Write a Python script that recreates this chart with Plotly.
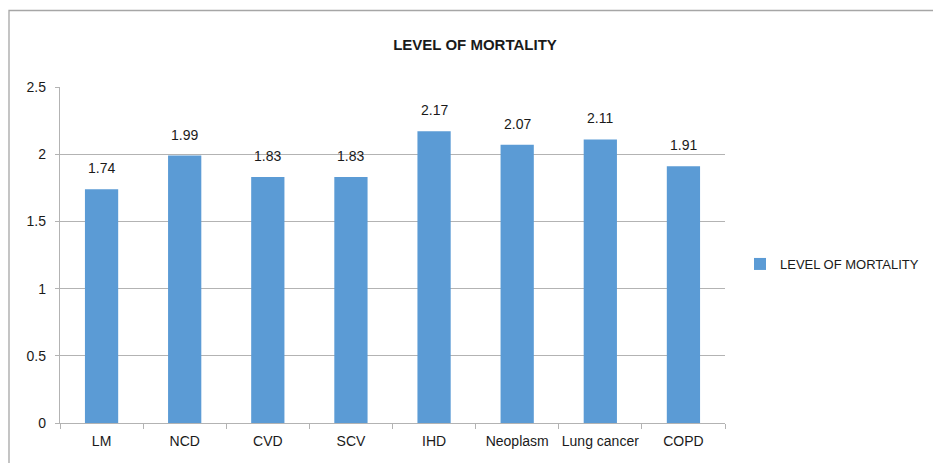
import plotly.graph_objects as go

categories = ["LM", "NCD", "CVD", "SCV", "IHD", "Neoplasm", "Lung cancer", "COPD"]
values = [1.74, 1.99, 1.83, 1.83, 2.17, 2.07, 2.11, 1.91]
series_name = "LEVEL OF MORTALITY"
y_ticks = [0, 0.5, 1, 1.5, 2, 2.5]
y_tick_labels = ["0", "0.5", "1", "1.5", "2", "2.5"]

W, H = 933, 463
L, R, T, B = 60, 725, 87, 423
FONT = "Liberation Sans"
GRID = "#b3b3b3"
TXT = "#1a1a1a"

fig = go.Figure()
fig.add_trace(go.Bar(
    x=categories, y=values, name=series_name,
    marker=dict(color="#5b9bd5", line=dict(width=0)),
))
for c, v in zip(categories, values):
    fig.add_annotation(x=c, y=v, text=f"{v:.2f}", showarrow=False,
                       yanchor="middle", yshift=21,
                       font=dict(family=FONT, size=14, color=TXT))

def px_x(x):
    return (x - L) / (R - L)

def px_y(y):
    return (B - y) / (B - T)

bx, by = px_x(9), px_y(10.5)
fig.add_shape(type="path", xref="paper", yref="paper",
              path=f"M {bx},{px_y(480)} L {bx},{by} L {px_x(960)},{by}",
              line=dict(color="#a6a6a6", width=1.3))

fig.update_layout(
    width=W, height=H, autosize=False,
    margin=dict(l=L, r=W - R, t=T, b=H - B, pad=0, autoexpand=False),
    paper_bgcolor="white", plot_bgcolor="white",
    bargap=0.6,
    showlegend=True,
    title=dict(text="<b>LEVEL OF MORTALITY</b>", x=475 / W, xref="container",
               xanchor="center", y=1 - 45 / H, yref="container", yanchor="middle",
               font=dict(family=FONT, size=15, color=TXT)),
    legend=dict(x=px_x(740), y=px_y(264), xref="paper", yref="paper",
                xanchor="left", yanchor="middle",
                font=dict(family=FONT, size=13, color=TXT),
                itemwidth=30),
    xaxis=dict(showline=True, linecolor=GRID, linewidth=1.3,
               ticks="outside", tickson="boundaries", ticklen=5, tickcolor=GRID,
               tickangle=0, automargin=False, ticklabelstandoff=5,
               tickfont=dict(family=FONT, size=14, color=TXT),
               showgrid=False),
    yaxis=dict(range=[0, 2.5], tickvals=y_ticks, ticktext=y_tick_labels,
               showline=True, linecolor=GRID, linewidth=1.3,
               ticks="outside", ticklen=4, tickcolor=GRID, automargin=False,
               ticklabelstandoff=6,
               showgrid=True, gridcolor=GRID, gridwidth=1.3,
               zeroline=False,
               tickfont=dict(family=FONT, size=14, color=TXT)),
)

fig.write_html("out.html", config={"responsive": False, "displayModeBar": False},
               post_script="document.body.style.margin='0px';")
